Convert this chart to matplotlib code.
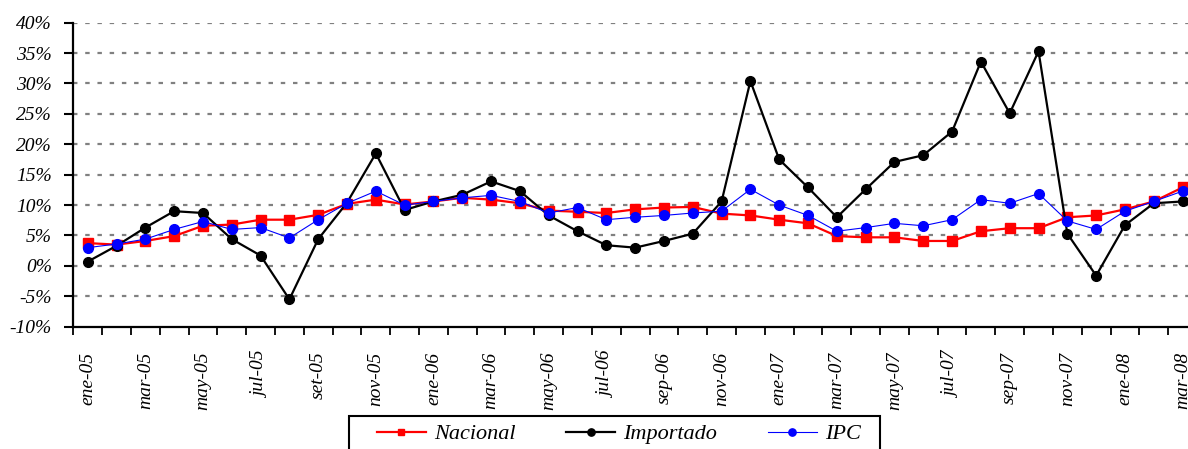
import matplotlib
matplotlib.use("Agg")
import matplotlib.pyplot as plt
from matplotlib.patches import Rectangle

months = ["ene", "feb", "mar", "abr", "may", "jun", "jul", "ago", "set", "oct", "nov", "dic"]
labels_all = []
for yr in ["05", "06", "07", "08"]:
    for i, m in enumerate(months):
        mm = m
        if yr != "05" and m == "set":
            mm = "sep"
        labels_all.append(f"{mm}-{yr}")
labels_all = labels_all[:39]

nacional = [3.75, 3.5, 4.1, 4.9, 6.6, 6.8, 7.6, 7.6, 8.4, 10.2, 10.9,
            10.1, 10.6, 11.2, 10.9, 10.3, 9.1, 8.9, 8.7, 9.3, 9.6, 9.7, 8.6, 8.3,
            7.6, 7.0, 4.9, 4.7, 4.7, 4.1, 4.1, 5.7, 6.2, 6.2, 8.0, 8.3, 9.3, 10.6, 12.9]
importado = [0.7, 3.3, 6.3, 9.0, 8.7, 4.4, 1.7, -5.5, 4.4, 10.4, 18.5,
             9.2, 10.6, 11.7, 13.9, 12.3, 8.3, 5.7, 3.4, 3.0, 4.1, 5.3, 10.6, 30.4,
             17.5, 12.9, 8.0, 12.6, 17.1, 18.2, 22.1, 33.6, 25.1, 35.3, 5.3, -1.6, 6.7, 10.3, 10.6]
ipc = [3.0, 3.6, 4.4, 6.0, 7.3, 6.0, 6.3, 4.6, 7.6, 10.3, 12.3,
       10.0, 10.6, 11.2, 11.6, 10.6, 8.7, 9.6, 7.6, 8.0, 8.3, 8.7, 9.0, 12.6,
       10.0, 8.3, 5.7, 6.3, 7.0, 6.6, 7.6, 10.9, 10.3, 11.9, 7.4, 6.0, 9.0, 10.6, 12.3]
yticks = list(range(-10, 41, 5))

font = "Liberation Serif"
W, H = 1188, 449
fig = plt.figure(figsize=(W / 100, H / 100), dpi=100)
left = 73.3 / W
right = 1197.0 / W
bottom = (H - 326.7) / H
top = (H - 22.7) / H
ax = fig.add_axes([left, bottom, right - left, top - bottom])

x = list(range(len(nacional)))
l1, = ax.plot(x, nacional, color="#ff0000", lw=1.6, marker="s", ms=6.5, label="Nacional", zorder=3)
l2, = ax.plot(x, importado, color="black", lw=1.6, marker="o", ms=7, label="Importado", zorder=4)
l3, = ax.plot(x, ipc, color="#0000ff", lw=0.8, marker="o", ms=7, label="IPC", zorder=5)

ax.set_xlim(-0.5, 38.5)
ax.set_ylim(-10, 40)

for v in yticks[1:]:
    ax.axhline(v, color="#808080", lw=1.6, ls=(0, (2, 3.5)), zorder=1)

ax.set_yticks(yticks)
ax.set_yticklabels([f"{v}%" for v in yticks], fontfamily=font, fontstyle="italic", fontsize=14)
ax.tick_params(axis="y", direction="out", length=6.5, width=1.5, pad=9)

ax.set_xticks([i - 0.5 for i in range(40)])
ax.set_xticklabels([])
ax.tick_params(axis="x", which="major", direction="out", length=6, width=1.3)
ax.set_xticks(list(range(0, 39, 2)), minor=True)
ax.set_xticklabels([labels_all[i] for i in range(0, 39, 2)], minor=True, rotation=90,
                   fontfamily=font, fontstyle="italic", fontsize=14)
ax.tick_params(axis="x", which="minor", length=0, pad=18)

for s in ["top", "right"]:
    ax.spines[s].set_visible(False)
for s in ["left", "bottom"]:
    ax.spines[s].set_linewidth(1.6)
    ax.spines[s].set_color("black")

# legend box frame
fig.add_artist(Rectangle((349 / W, 1 - 462 / H), 531 / W, 46 / H, transform=fig.transFigure,
                         fill=False, edgecolor="black", lw=1.5, clip_on=False))
leg = fig.legend(handles=[l1, l2, l3], loc="center left",
                 bbox_to_anchor=(377 / W, 1 - 434 / H), ncol=3, frameon=False,
                 prop={"family": font, "style": "italic", "size": 16},
                 handlelength=2.2, columnspacing=2.3, borderpad=0, handletextpad=0.35,
                 borderaxespad=0, markerscale=0.75)

fig.savefig("out.png", dpi=100)
